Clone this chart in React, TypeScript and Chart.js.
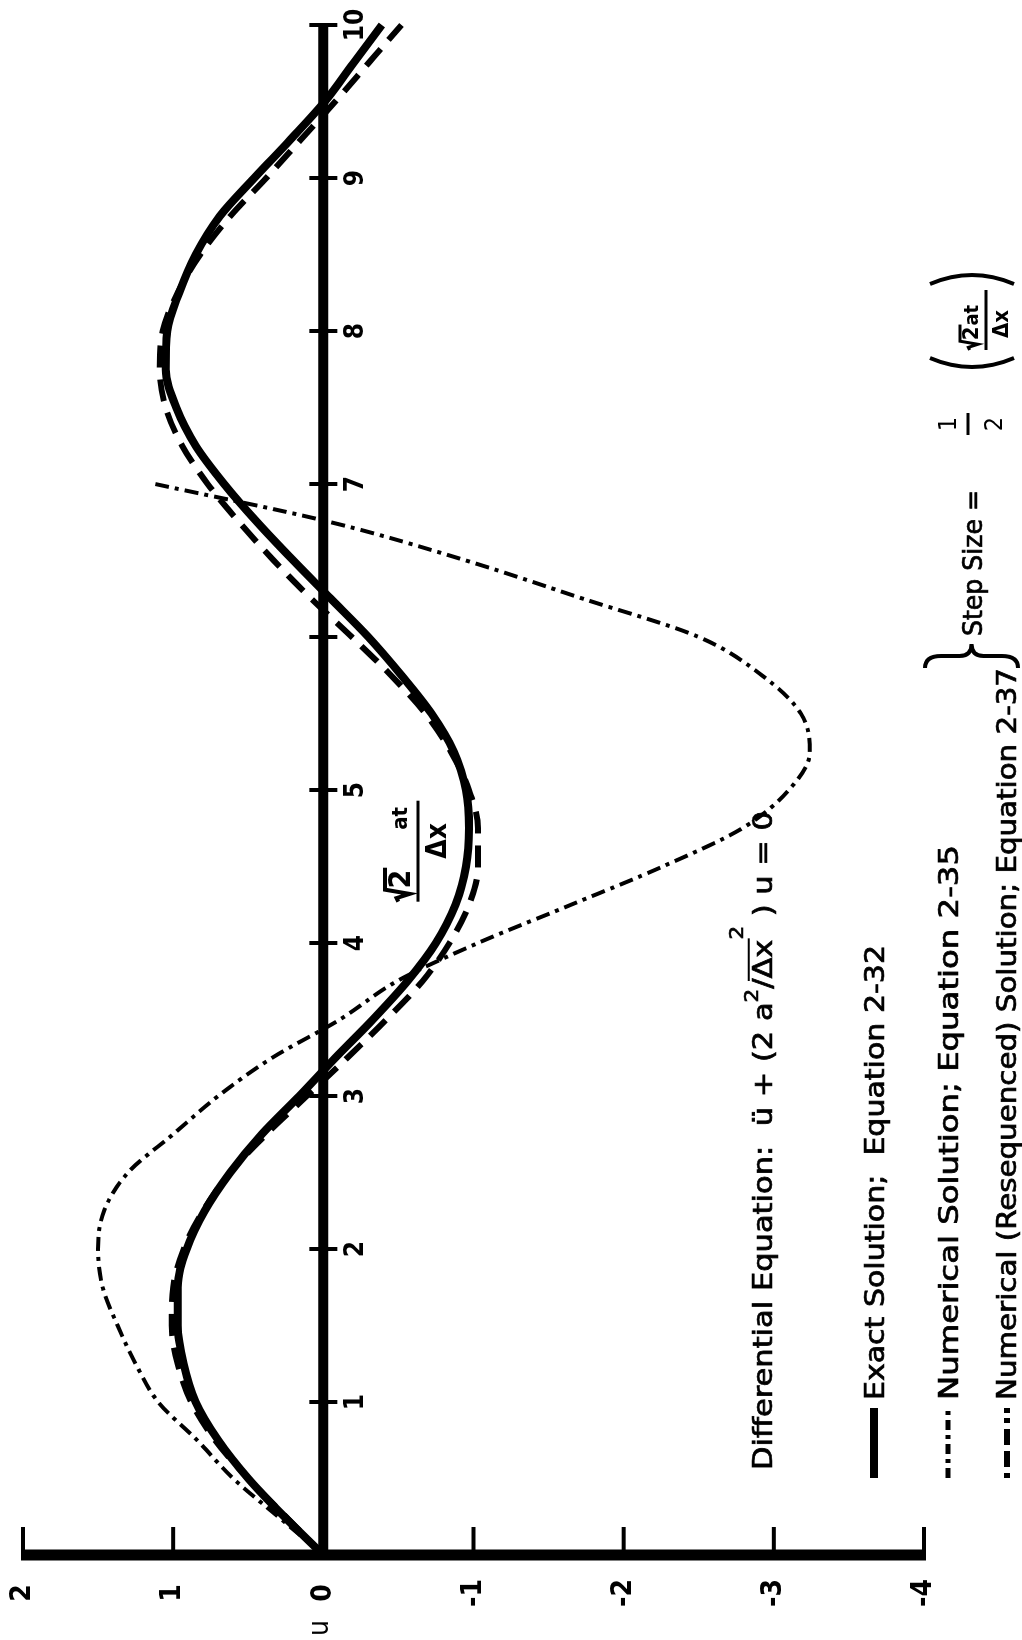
import React, { useEffect, useRef } from "react";
import { Chart, registerables } from "chart.js";

Chart.register(...registerables);

// Figure is laid out landscape and turned a quarter turn counter-clockwise on the page.
const FIG_W = 1640;
const FIG_H = 1022;

// Abscissa: sqrt(2) a t / dx
const xSamples = [
  0, 0.25, 0.5, 0.75, 1, 1.25, 1.5, 1.75, 2, 2.25, 2.5, 2.75, 3, 3.25, 3.5, 3.75, 4, 4.25, 4.5, 4.75, 5,
  5.25, 5.5, 5.75, 6, 6.25, 6.5, 6.75, 7, 7.25, 7.5, 7.75, 8, 8.25, 8.5, 8.75, 9, 9.25, 9.5, 9.75, 10,
];

// Exact solution; Equation 2-32
const exactU = [
  0, 0.26, 0.5, 0.7, 0.85, 0.93, 0.97, 0.97, 0.91, 0.79, 0.62, 0.41, 0.16, -0.08, -0.33, -0.56, -0.75, -0.88,
  -0.95, -0.97, -0.95, -0.87, -0.72, -0.52, -0.3, -0.05, 0.2, 0.44, 0.66, 0.85, 0.98, 1.05, 1.04, 0.96, 0.85,
  0.69, 0.46, 0.22, -0.01, -0.2, -0.39,
];

// Numerical (resequenced) solution; Equation 2-37
const reseqU = [
  0, 0.25, 0.5, 0.72, 0.88, 0.97, 1.01, 1.0, 0.93, 0.8, 0.62, 0.38, 0.11, -0.16, -0.42, -0.66, -0.84, -0.97,
  -1.03, -1.03, -0.97, -0.85, -0.68, -0.45, -0.19, 0.08, 0.33, 0.56, 0.77, 0.94, 1.05, 1.09, 1.07, 0.97, 0.82,
  0.62, 0.38, 0.15, -0.08, -0.3, -0.52,
];

// Numerical solution; Equation 2-35 (grows without bound, plotted to 7)
const numericalX = [
  0, 0.25, 0.5, 0.75, 1, 1.25, 1.5, 1.75, 2, 2.25, 2.5, 2.75, 3, 3.25, 3.5, 3.75, 4, 4.25, 4.5, 4.75, 5, 5.25,
  5.5, 5.75, 6, 6.25, 6.5, 6.75, 7,
];
const numericalU = [
  0, 0.3, 0.6, 0.84, 1.1, 1.25, 1.37, 1.47, 1.5, 1.46, 1.3, 1.0, 0.7, 0.34, -0.11, -0.49, -1.03, -1.65, -2.26,
  -2.79, -3.1, -3.24, -3.18, -2.92, -2.5, -1.73, -0.95, -0.05, 1.12,
];

const xTickValues = [1, 2, 3, 4, 5, 6, 7, 8, 9, 10];
const xTickLabels = ["1", "2", "3", "4", "5", "", "7", "8", "9", "10"];
const uTickValues = [2, 1, 0, -1, -2, -3, -4];
const uTickLabels = ["2", "1", "0", "-1", "-2", "-3", "-4"];

const FAMILY = '"DejaVu Sans Condensed", "DejaVu Sans", sans-serif';

function setFont(ctx: CanvasRenderingContext2D, size: number, bold = false) {
  ctx.font = `${bold ? "bold " : ""}${size}px ${FAMILY}`;
  try {
    (ctx as any).fontStretch = "condensed";
  } catch (e) {
    /* older canvas */
  }
}

type Seg = { t: string; size: number; dy?: number; bold?: boolean; over?: boolean };

// Draws a run of text segments from x on baseline y, squeezed to the given width.
function drawRun(ctx: CanvasRenderingContext2D, segs: Seg[], x: number, y: number, width?: number) {
  const widths = segs.map((s) => {
    setFont(ctx, s.size, s.bold);
    return ctx.measureText(s.t).width;
  });
  const total = widths.reduce((a, b) => a + b, 0);
  const sx = width ? width / total : 1;
  ctx.save();
  ctx.translate(x, y);
  ctx.scale(sx, 1);
  ctx.textAlign = "left";
  ctx.textBaseline = "alphabetic";
  ctx.lineWidth = 0.7;
  let cx = 0;
  segs.forEach((s, i) => {
    setFont(ctx, s.size, s.bold);
    ctx.fillText(s.t, cx, s.dy || 0);
    ctx.strokeText(s.t, cx, s.dy || 0);
    if (s.over) {
      ctx.save();
      ctx.lineWidth = 2;
      ctx.beginPath();
      ctx.moveTo(cx - 2, -s.size * 0.86);
      ctx.lineTo(cx + widths[i] + 1, -s.size * 0.86);
      ctx.stroke();
      ctx.restore();
    }
    cx += widths[i];
  });
  ctx.restore();
}

function hLine(ctx: CanvasRenderingContext2D, x1: number, x2: number, y: number, w: number, dash: number[] = []) {
  ctx.save();
  ctx.lineWidth = w;
  ctx.setLineDash(dash);
  ctx.beginPath();
  ctx.moveTo(x1, y);
  ctx.lineTo(x2, y);
  ctx.stroke();
  ctx.restore();
}

// Radical sign over a digit, e.g. sqrt(2)
function drawRoot(ctx: CanvasRenderingContext2D, x: number, base: number, size: number, digit: string, lw: number) {
  setFont(ctx, size, true);
  ctx.textAlign = "left";
  ctx.textBaseline = "alphabetic";
  const dw = ctx.measureText(digit).width;
  const top = base - size * 0.82;
  ctx.save();
  ctx.lineWidth = lw;
  ctx.lineJoin = "miter";
  ctx.beginPath();
  ctx.moveTo(x, base - size * 0.38);
  ctx.lineTo(x + size * 0.12, base - size * 0.44);
  ctx.lineTo(x + size * 0.26, base);
  ctx.lineTo(x + size * 0.4, top);
  ctx.lineTo(x + size * 0.44 + dw + 2, top);
  ctx.stroke();
  ctx.restore();
  ctx.fillText(digit, x + size * 0.44, base);
  return x + size * 0.44 + dw;
}

function paren(ctx: CanvasRenderingContext2D, x: number, y1: number, y2: number, dir: 1 | -1) {
  ctx.save();
  ctx.lineWidth = 4;
  ctx.beginPath();
  ctx.moveTo(x + dir * 10, y1);
  ctx.quadraticCurveTo(x - dir * 8, (y1 + y2) / 2, x + dir * 10, y2);
  ctx.stroke();
  ctx.restore();
}

const decor = {
  id: "decor",
  beforeDatasetsDraw(chart: any) {
    const { ctx } = chart;
    const xs = chart.scales.x;
    const ys = chart.scales.y;
    const px = (v: number) => xs.getPixelForValue(v);
    const py = (v: number) => ys.getPixelForValue(v);
    ctx.save();
    ctx.strokeStyle = "#000";
    ctx.fillStyle = "#000";
    ctx.lineCap = "butt";

    // u axis
    ctx.lineWidth = 11;
    ctx.beginPath();
    ctx.moveTo(px(0), py(2) - 2);
    ctx.lineTo(px(0), py(-4) + 2);
    ctx.stroke();
    ctx.lineWidth = 4;
    uTickValues.forEach((u) => {
      ctx.beginPath();
      ctx.moveTo(px(0), py(u));
      ctx.lineTo(px(0) + 28, py(u));
      ctx.stroke();
    });

    // abscissa drawn along u = 0
    ctx.lineWidth = 10;
    ctx.beginPath();
    ctx.moveTo(px(0), py(0));
    ctx.lineTo(px(10), py(0));
    ctx.stroke();
    ctx.lineWidth = 4;
    xTickValues.forEach((v) => {
      ctx.beginPath();
      ctx.moveTo(px(v), py(0) - 14);
      ctx.lineTo(px(v), py(0) + 14);
      ctx.stroke();
    });

    ctx.textAlign = "center";
    ctx.textBaseline = "middle";
    setFont(ctx, 28, true);
    uTickValues.forEach((u, i) => ctx.fillText(uTickLabels[i], px(0) - 38, py(u)));
    setFont(ctx, 26, true);
    xTickValues.forEach((v, i) => {
      if (xTickLabels[i]) ctx.fillText(xTickLabels[i], px(v), py(0) + 33);
    });
    setFont(ctx, 28, false);
    ctx.fillText("u", px(0) - 73, py(0) - 3);
    ctx.restore();
  },
  afterDatasetsDraw(chart: any) {
    const { ctx } = chart;
    const xs = chart.scales.x;
    const ys = chart.scales.y;
    const px = (v: number) => xs.getPixelForValue(v);
    const py = (v: number) => ys.getPixelForValue(v);
    ctx.save();
    ctx.strokeStyle = "#000";
    ctx.fillStyle = "#000";

    // abscissa name: sqrt(2) a t / dx, placed beside the first trough
    const endRoot = drawRoot(ctx, px(4.27), py(-0.575), 30, "2", 4);
    setFont(ctx, 22, true);
    ctx.textAlign = "left";
    ctx.fillText("at", Math.max(endRoot + 14, px(4.74)), py(-0.555));
    hLine(ctx, px(4.27), px(4.93), py(-0.63), 3);
    setFont(ctx, 28, true);
    ctx.fillText("Δx", px(4.55), py(-0.82));

    // differential equation
    drawRun(
      ctx,
      [
        { t: "Differential Equation:  ü + (2 a", size: 27 },
        { t: "2", size: 19, dy: -14 },
        { t: "/", size: 27 },
        { t: "Δx", size: 27, over: true },
        { t: "2", size: 19, dy: -29 },
        { t: " ) u = 0", size: 27 },
      ],
      170,
      772,
      659
    );

    // legend
    hLine(ctx, 162, 232, 874, 8);
    drawRun(ctx, [{ t: "Exact Solution;  Equation 2-32", size: 27 }], 240, 884, 455);
    hLine(ctx, 162, 232, 948, 5, [10, 5, 4, 5]);
    drawRun(ctx, [{ t: "Numerical Solution; Equation 2-35", size: 27 }], 240, 958, 555);
    hLine(ctx, 162, 232, 1007, 6, [5, 6, 16, 6, 16, 6, 5]);
    drawRun(ctx, [{ t: "Numerical (Resequenced) Solution; Equation 2-37", size: 27 }], 240, 1016, 732);

    // brace joining both numerical solutions
    const bx = 972;
    const bt = 925;
    const bb = 1018;
    const bm = (bt + bb) / 2;
    ctx.save();
    ctx.lineWidth = 4;
    ctx.beginPath();
    ctx.moveTo(bx, bt);
    ctx.quadraticCurveTo(bx + 12, bt, bx + 12, bt + 16);
    ctx.lineTo(bx + 12, bm - 12);
    ctx.quadraticCurveTo(bx + 12, bm, bx + 24, bm);
    ctx.quadraticCurveTo(bx + 12, bm, bx + 12, bm + 12);
    ctx.lineTo(bx + 12, bb - 16);
    ctx.quadraticCurveTo(bx + 12, bb, bx, bb);
    ctx.stroke();
    ctx.restore();

    // step size = 1/2 (sqrt(2) a t / dx)
    drawRun(ctx, [{ t: "Step Size =", size: 27 }], 1004, 982, 146);
    setFont(ctx, 25, false);
    ctx.textAlign = "center";
    ctx.fillText("1", 1216, 956);
    hLine(ctx, 1205, 1227, 968, 3);
    ctx.fillText("2", 1216, 1002);
    paren(ctx, 1272, 930, 1014, 1);
    const e2 = drawRoot(ctx, 1290, 978, 22, "2", 3);
    setFont(ctx, 20, true);
    ctx.textAlign = "left";
    ctx.fillText("at", e2 + 1, 978);
    hLine(ctx, 1290, 1350, 986, 3);
    setFont(ctx, 22, true);
    ctx.fillText("Δx", 1302, 1008);
    paren(ctx, 1366, 930, 1014, -1);

    ctx.restore();
  },
};

export default function App() {
  const ref = useRef<HTMLCanvasElement>(null);

  useEffect(() => {
    document.body.style.margin = "0";
    const canvas = ref.current;
    if (!canvas) return;
    const pts = (xs: number[], us: number[]) => xs.map((x, i) => ({ x, y: us[i] }));
    const chart = new Chart(canvas, {
      type: "line",
      data: {
        datasets: [
          {
            label: "Exact Solution; Equation 2-32",
            data: pts(xSamples, exactU),
            borderColor: "#000",
            borderWidth: 8,
            pointRadius: 0,
            cubicInterpolationMode: "monotone",
            clip: false,
          },
          {
            label: "Numerical Solution; Equation 2-35",
            data: pts(numericalX, numericalU),
            borderColor: "#000",
            borderWidth: 4,
            borderDash: [14, 6, 4, 6],
            pointRadius: 0,
            cubicInterpolationMode: "monotone",
            clip: false,
          },
          {
            label: "Numerical (Resequenced) Solution; Equation 2-37",
            data: pts(xSamples, reseqU),
            borderColor: "#000",
            borderWidth: 6,
            borderDash: [22, 12],
            pointRadius: 0,
            cubicInterpolationMode: "monotone",
            clip: false,
          },
        ],
      },
      options: {
        responsive: false,
        maintainAspectRatio: false,
        animation: false,
        devicePixelRatio: 1,
        layout: { padding: { left: 85, right: 25, top: 23, bottom: 98 } },
        scales: {
          x: { type: "linear", min: 0, max: 10, display: false },
          y: { type: "linear", min: -4, max: 2, display: false },
        },
        plugins: { legend: { display: false }, tooltip: { enabled: false } },
      },
      plugins: [decor],
    } as any);
    return () => chart.destroy();
  }, []);

  return (
    <div
      style={{
        position: "fixed",
        left: 0,
        top: 0,
        width: 1022,
        height: 1640,
        overflow: "hidden",
        background: "#fff",
      }}
    >
      <div
        style={{
          position: "absolute",
          left: 0,
          top: 0,
          width: FIG_W,
          height: FIG_H,
          transformOrigin: "0 0",
          transform: `translateY(${FIG_W}px) rotate(-90deg)`,
        }}
      >
        <canvas ref={ref} width={FIG_W} height={FIG_H} style={{ display: "block", width: FIG_W, height: FIG_H }} />
      </div>
    </div>
  );
}
